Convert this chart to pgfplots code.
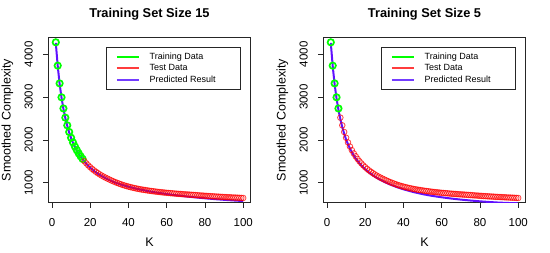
\documentclass[border=0pt]{standalone}
\usepackage{pgfplots}
\pgfplotsset{compat=1.18}
\usepackage{pgfplotstable}
\usepackage{fontspec}
\setmainfont{Liberation Sans}
\definecolor{rgreen}{RGB}{0,255,0}
\definecolor{rred}{RGB}{255,0,0}
\definecolor{rpurple}{RGB}{96,16,255}
\definecolor{lgred}{RGB}{255,60,60}
\definecolor{lgpurple}{RGB}{115,60,255}

\pgfplotstableread{
K y
2 4280
3 3735
4 3320
5 2995
6 2735
7 2520
8 2340
9 2185
10 2050
11 1940
12 1845
13 1760
14 1684
15 1617
16 1556
17 1500
18 1450
19 1404
20 1362
21 1322
22 1287
23 1254
24 1223
25 1194
26 1167
27 1142
28 1118
29 1096
30 1075
31 1054
32 1034
33 1015
34 997
35 980
36 964
37 948
38 934
39 921
40 908
41 897
42 886
43 876
44 866
45 857
46 848
47 840
48 833
49 826
50 819
51 812
52 806
53 800
54 794
55 789
56 783
57 778
58 773
59 769
60 764
61 760
62 756
63 752
64 748
65 744
66 740
67 737
68 734
69 730
70 727
71 724
72 721
73 718
74 715
75 711
76 708
77 704
78 701
79 698
80 694
81 691
82 688
83 685
84 682
85 679
86 677
87 674
88 671
89 669
90 666
91 664
92 661
93 659
94 656
95 654
96 652
97 650
98 648
99 645
100 643
}\obs

\pgfplotstableread{
K y
2 4265
3 3730
4 3310
5 2985
6 2725
7 2510
8 2330
9 2175
10 2040
11 1930
12 1835
13 1750
14 1675
15 1608
16 1548
18 1440
20 1350
22 1275
24 1210
26 1155
28 1105
30 1062
33 1005
36 958
40 905
45 850
50 806
55 768
60 735
65 706
70 680
75 657
80 636
85 617
90 600
95 585
100 572
}\predL

\pgfplotstableread{
K y
2 4265
3 3725
4 3300
5 2970
6 2705
7 2485
8 2300
9 2145
10 2010
11 1898
12 1800
13 1714
14 1638
15 1570
16 1509
18 1403
20 1314
22 1238
24 1173
26 1115
28 1064
30 1018
33 958
36 906
40 846
45 784
50 733
55 692
60 659
65 630
70 605
75 584
80 565
85 549
90 535
95 526
100 519
}\predR

\pgfplotsset{
  rstyle/.style={
    scale only axis,
    width=202.4pt, height=165pt,
    anchor=south west,
    xmin=-1.92, xmax=103.92,
    ymin=533, ymax=4388,
    xtick={0,20,40,60,80,100},
    ytick={1000,2000,3000,4000},
    xtick pos=bottom, ytick pos=left,
    tick align=outside,
    major tick length=5pt,
    axis line style={black!85, line width=0.7pt},
    every tick/.style={black!85, line width=0.7pt},
    /pgf/number format/assume math mode=true,
    scaled ticks=false,
    /pgf/number format/1000 sep={},
    ticklabel style={font=\fontsize{11.5}{12}\selectfont},
    xticklabel style={yshift=-7pt},
    yticklabel style={rotate=90, anchor=south, yshift=7pt},
    xlabel={K},
    ylabel={Smoothed Complexity},
    label style={font=\fontsize{12.5}{13}\selectfont},
    xlabel style={at={([yshift=-40pt]axis description cs:0.5,0)}, anchor=center},
    ylabel style={at={([xshift=-40.8pt]axis description cs:0,0.5)}, anchor=center},
    title style={at={([yshift=17.7pt]axis description cs:0.5,1)}, anchor=center,
      font=\fontsize{12.8}{13}\selectfont\bfseries},
    legend style={at={(0.952,0.945)}, anchor=north east, draw=black!85, line width=0.6pt,
      font=\fontsize{9}{9}\selectfont, inner xsep=9.3pt, inner ysep=3.8pt,
      nodes={inner sep=0pt, minimum height=11.5pt}, column sep=10pt},
    legend cell align=left,
  },
  greenpts/.style={only marks, mark=o, color=rgreen, mark size=3.2pt, line width=1.7pt},
  redpts/.style={only marks, mark=o, color=rred, draw opacity=0.75, mark size=2.8pt, line width=0.8pt},
  predline/.style={no marks, color=rpurple, line width=2pt},
}
\newcommand{\rlegend}{%
\addlegendimage{legend image code/.code={\draw[rgreen, line width=2pt] (0pt,0pt) -- (21.7pt,0pt);}}
\addlegendentry{\makebox[81.7pt][l]{Training Data}}
\addlegendimage{legend image code/.code={\draw[lgred, line width=2pt] (0pt,0pt) -- (21.7pt,0pt);}}
\addlegendentry{\makebox[81.7pt][l]{Test Data}}
\addlegendimage{legend image code/.code={\draw[lgpurple, line width=2pt] (0pt,0pt) -- (21.7pt,0pt);}}
\addlegendentry{\makebox[81.7pt][l]{Predicted Result}}
}

\begin{document}
\begin{tikzpicture}[x=1pt,y=1pt]
\path[use as bounding box] (0,0) rectangle (550,253);
\begin{axis}[rstyle, at={(48.3pt,50.3pt)}, title={Training Set Size 15}]
\rlegend
\addplot[greenpts, forget plot, restrict x to domain=2:16.5] table[x=K,y=y] {\obs};
\addplot[redpts, forget plot, restrict x to domain=16.5:100] table[x=K,y=y] {\obs};
\addplot[predline, forget plot] table[x=K,y=y] {\predL};
\end{axis}
\begin{axis}[rstyle, at={(323.3pt,50.3pt)}, title={Training Set Size 5}]
\rlegend
\addplot[greenpts, forget plot, restrict x to domain=2:6.5] table[x=K,y=y] {\obs};
\addplot[redpts, forget plot, restrict x to domain=6.5:100] table[x=K,y=y] {\obs};
\addplot[predline, forget plot] table[x=K,y=y] {\predR};
\end{axis}
\end{tikzpicture}
\end{document}
